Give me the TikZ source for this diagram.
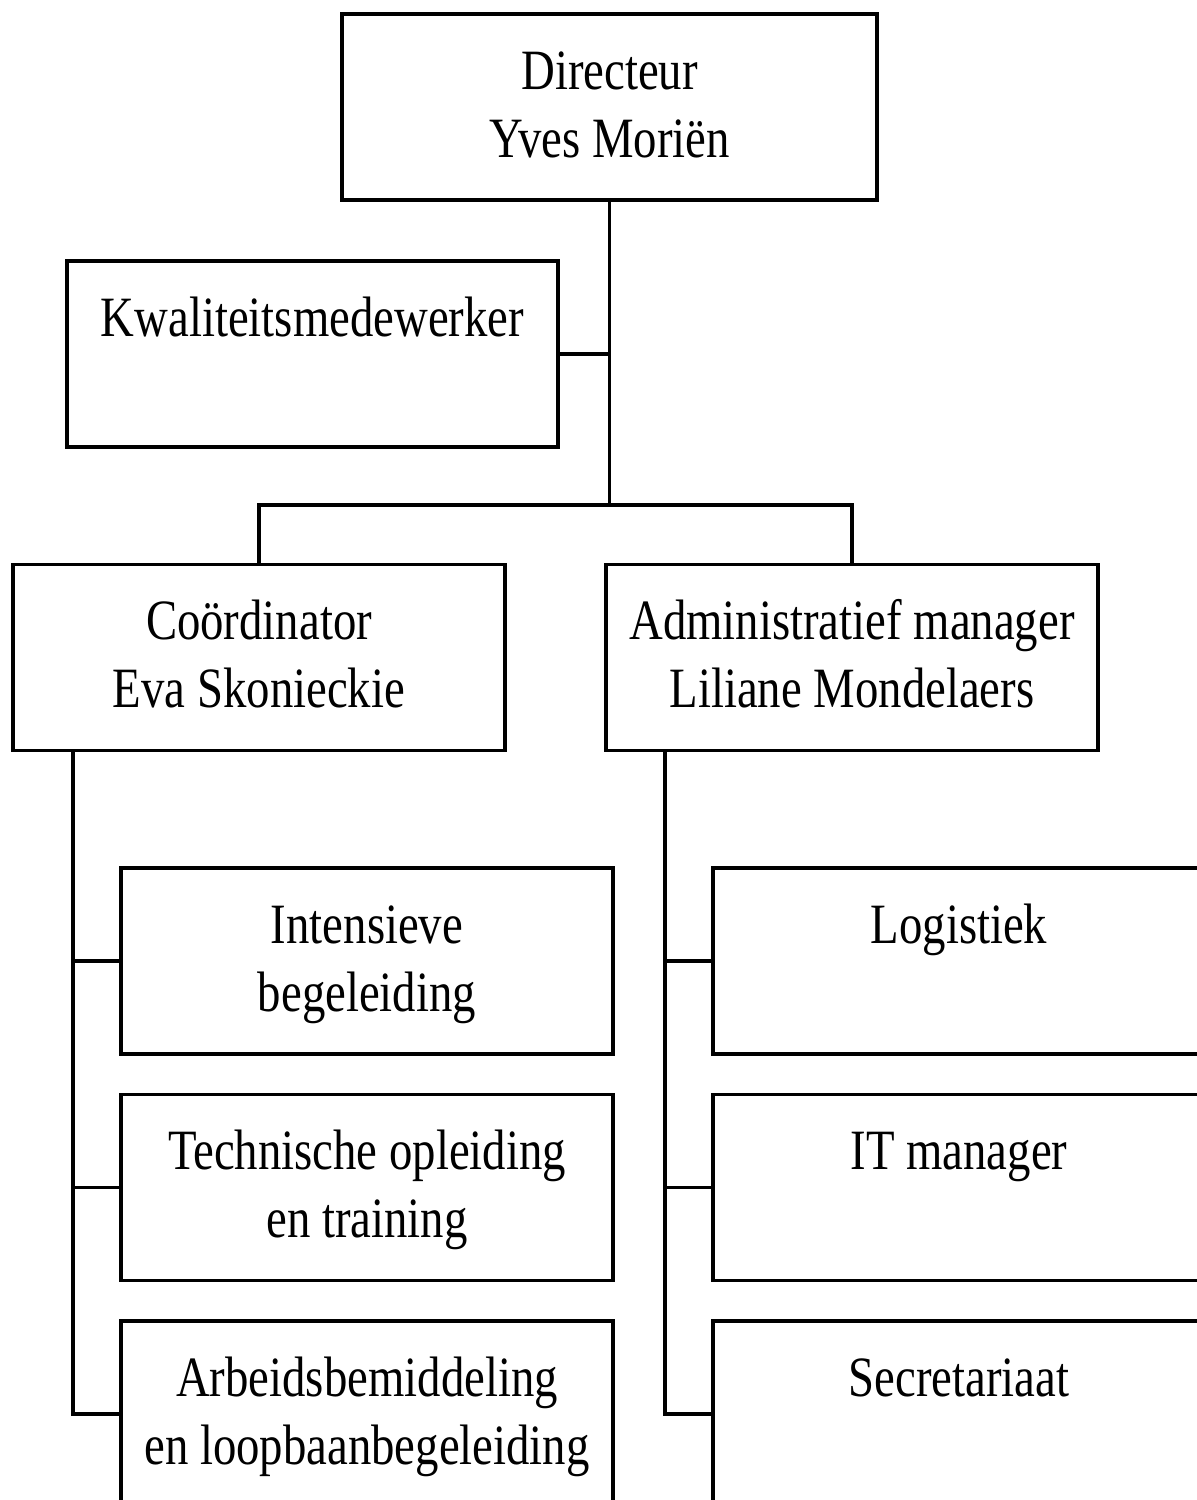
\documentclass[tikz,border=0pt]{standalone}
\usepackage{fontspec}
\setmainfont{Liberation Serif}[FakeStretch=0.82]
\newcommand{\bxt}[2]{\parbox[c][186pt][t]{#1}{\centering\rule{0pt}{75pt}#2}}
\tikzset{
  box/.style={draw, line width=3.2pt, inner sep=0pt, rectangle, font=\fontsize{57}{68}\selectfont},
  conn/.style={line width=3.2pt}
}
\begin{document}
\begin{tikzpicture}[x=1pt,y=-1pt]
\useasboundingbox (0,0) rectangle (1197,1500);
\clip (0,0) rectangle (1197,1500);
\node[box] (dir) at (609.5,107) {\bxt{535pt}{Directeur\\Yves Moriën}};
\node[box] (kwal) at (312.5,354) {\bxt{491pt}{Kwaliteitsmedewerker}};
\node[box] (coord) at (259,657.5) {\bxt{492pt}{Coördinator\\Eva Skonieckie}};
\node[box] (admin) at (852,657.5) {\bxt{492pt}{Administratief manager\\Liliane Mondelaers}};
\node[box] (l1) at (367,961) {\bxt{492pt}{Intensieve\\begeleiding}};
\node[box] (l2) at (367,1187.5) {\bxt{492pt}{Technische opleiding\\en training}};
\node[box] (l3) at (367,1414) {\bxt{492pt}{Arbeidsbemiddeling\\en loopbaanbegeleiding}};
\node[box] (r1) at (959,961) {\bxt{492pt}{Logistiek}};
\node[box] (r2) at (959,1187.5) {\bxt{492pt}{IT manager}};
\node[box] (r3) at (959,1414) {\bxt{492pt}{Secretariaat}};
\coordinate (bus) at (609.5,505);
\coordinate (lsp) at (73,750);
\coordinate (rsp) at (665,750);
\draw[conn] (dir.south) -- (bus);
\draw[conn] (kwal.east) -- (kwal.east -| dir.south);
\draw[conn] (coord.north) |- (bus) -| (admin.north);
\draw[conn] (lsp) |- (l3.west);
\draw[conn] (lsp |- l1.west) -- (l1.west);
\draw[conn] (lsp |- l2.west) -- (l2.west);
\draw[conn] (rsp) |- (r3.west);
\draw[conn] (rsp |- r1.west) -- (r1.west);
\draw[conn] (rsp |- r2.west) -- (r2.west);
\end{tikzpicture}
\end{document}
